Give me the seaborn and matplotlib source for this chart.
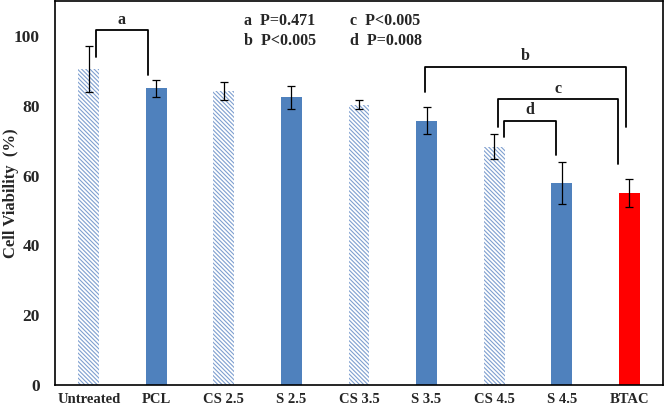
import matplotlib
matplotlib.use("Agg")
import matplotlib.pyplot as plt
import seaborn as sns
import pandas as pd

# данные
categories = ["Untreated", "PCL", "CS 2.5", "S 2.5", "CS 3.5", "S 3.5", "CS 4.5", "S 4.5", "BTAC"]
viability = [90.5, 85.0, 84.2, 82.4, 80.3, 75.7, 68.3, 57.8, 55.0]
errors = [6.5, 2.4, 2.5, 3.3, 1.3, 3.8, 3.5, 6.0, 4.0]
hatched = [True, False, True, False, True, False, True, False, False]
bar_colors = ["white", "#4F81BD", "white", "#4F81BD", "white", "#4F81BD", "white", "#4F81BD", "#FF0000"]

# скобки значимости: (x слева, x справа, y слева, y справа, y верх, метка)
brackets = [
    (0.11, 0.87, 94.0, 88.8, 101.6, "a"),
    (4.97, 7.95, 83.8, 74.0, 91.2, "b"),
    (6.06, 7.83, 74.0, 63.3, 81.9, "c"),
    (6.15, 6.91, 71.1, 65.9, 75.7, "d"),
]
p_texts = [
    (2.30, 104.2, "a  P=0.471"),
    (2.30, 98.4, "b  P<0.005"),
    (3.87, 104.2, "c  P<0.005"),
    (3.87, 98.4, "d  P=0.008"),
]

sns.set_style("white")
plt.rcParams["font.family"] = ["Liberation Serif", "DejaVu Serif"]
plt.rcParams["font.weight"] = "bold"
plt.rcParams["hatch.linewidth"] = 0.8

df = pd.DataFrame({"cat": categories, "val": viability})

fig = plt.figure(figsize=(6.66, 4.09), dpi=100)
ax = fig.add_axes([0.0826, 0.0587, 0.9129, 0.939])

sns.barplot(data=df, x="cat", y="val", hue="cat", palette=bar_colors,
            legend=False, width=0.31, ax=ax, saturation=1)

for patch, h in zip(ax.patches, hatched):
    patch.set_linewidth(0)
    if h:
        patch.set_hatch("\\\\\\\\\\\\\\\\")
        patch.set_edgecolor("#7F9FCF")

ax.errorbar(range(len(categories)), viability, yerr=errors, fmt="none",
            ecolor="black", elinewidth=0.9, capsize=3, capthick=0.9)

for x1, x2, y1, y2, top, lab in brackets:
    ax.plot([x1, x1, x2, x2], [y1, top, top, y2], color="black", lw=1.3)
    ax.text((x1 + x2) / 2, top + 3.0, lab, ha="center", va="center",
            fontsize=11.5, fontweight="bold")

for x, y, t in p_texts:
    ax.text(x, y, t, ha="left", va="center", fontsize=11.5, fontweight="bold")

ax.set_xlim(-0.5, 8.5)
ax.set_ylim(0, 110)
ax.set_yticks([0, 20, 40, 60, 80, 100])
ax.tick_params(axis="y", labelsize=12.5, length=0, pad=11)
ax.tick_params(axis="x", labelsize=10.5, length=0, pad=6)
ax.set_xlabel("")
ax.set_ylabel("Cell Viability  (%)", fontsize=12, fontweight="bold")
ax.yaxis.set_label_coords(-0.060, 0.5)

for s in ax.spines.values():
    s.set_color("black")
    s.set_linewidth(1.2)

fig.savefig("out.png", dpi=100)
